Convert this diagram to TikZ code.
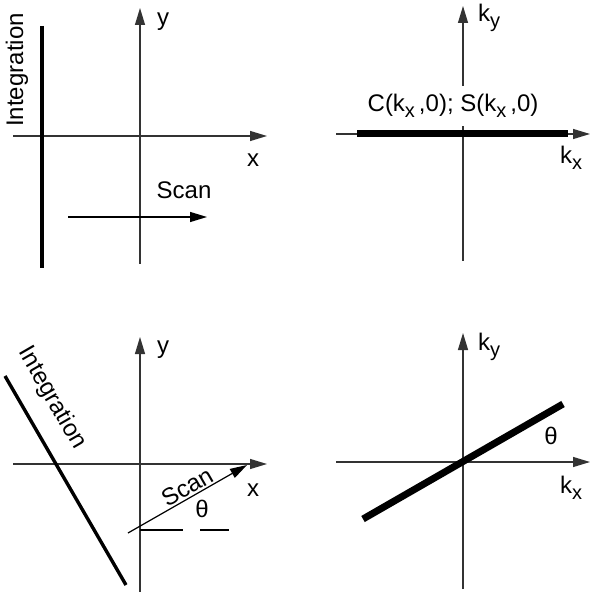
\documentclass[tikz,border=0pt]{standalone}
\usepackage{fontspec}
\setmainfont{Liberation Sans}
\usetikzlibrary{arrows.meta}
\newcommand{\lowidx}[1]{\raisebox{-.45ex}{\fontsize{10}{10}\selectfont #1}}

\begin{document}
\begin{tikzpicture}[x=.5pt,y=-.5pt,>={Triangle[length=8.5pt,width=5pt]},
 axis/.style={->,line width=.6pt,draw=black!80},
 scanline/.style={->,line width=.6pt},
 strip/.style={line width=1.7pt},
 wide/.style={line width=3.5pt},
 lbl/.style={inner sep=1pt,font=\fontsize{12}{14}\selectfont}]
\useasboundingbox (0,0) rectangle (590,592);
% object space, scan along x
\begin{scope}
\draw[axis] (140,264)--(140,8);
\draw[axis] (13,136)--(267,136);
\draw[strip] (42,26)--(42,268);
\node[lbl,rotate=90] (int1) at (17,70) {Integration};
\node[lbl] (y1) at (163,22) {y};
\node[lbl] (x1) at (253,160) {x};
\draw[scanline] (68,217)--(207,217);
\node[lbl] (scan1) at (184,190) {Scan};
\end{scope}
% frequency space, kx line
\begin{scope}[shift={(295,0)}]
\draw[axis] (168,261)--(168,6);
\draw[axis] (41,134)--(295,134);
\draw[wide] (62,134)--(273,134);
\node[lbl,fill=white,inner ysep=4pt] (cs) at (158,106) {C(k\lowidx{x}\,,0); S(k\lowidx{x}\,,0)};
\node[lbl] (ky2) at (194,18) {k\lowidx{y}};
\node[lbl] (kx2) at (276,158) {k\lowidx{x}};
\end{scope}
% object space, rotated scan
\begin{scope}[shift={(0,328)}]
\draw[axis] (140,264)--(140,9);
\draw[axis] (13,136)--(267,136);
\draw[strip] (5,48)--(126,257);
\node[lbl,rotate=-60] (int3) at (52,70) {Integration};
\node[lbl] (y3) at (163,22) {y};
\node[lbl] (x3) at (253,162) {x};
\draw[scanline] (128,205)--(247,137);
\node[lbl,rotate=30] (scan3) at (187,159) {Scan};
\node[lbl] (th3) at (202,181) {θ};
\draw[line width=.6pt,dash pattern=on 21.5pt off 8.5pt] (140,202)--(229,202);
\end{scope}
% frequency space, rotated line
\begin{scope}[shift={(295,328)}]
\draw[axis] (168,261)--(168,5);
\draw[axis] (41,134)--(295,134);
\draw[wide] (68,191)--(268,76);
\node[lbl] (ky4) at (194,19) {k\lowidx{y}};
\node[lbl] (kx4) at (276,160) {k\lowidx{x}};
\node[lbl] (th4) at (256,108) {θ};
\end{scope}
\end{tikzpicture}
\end{document}
